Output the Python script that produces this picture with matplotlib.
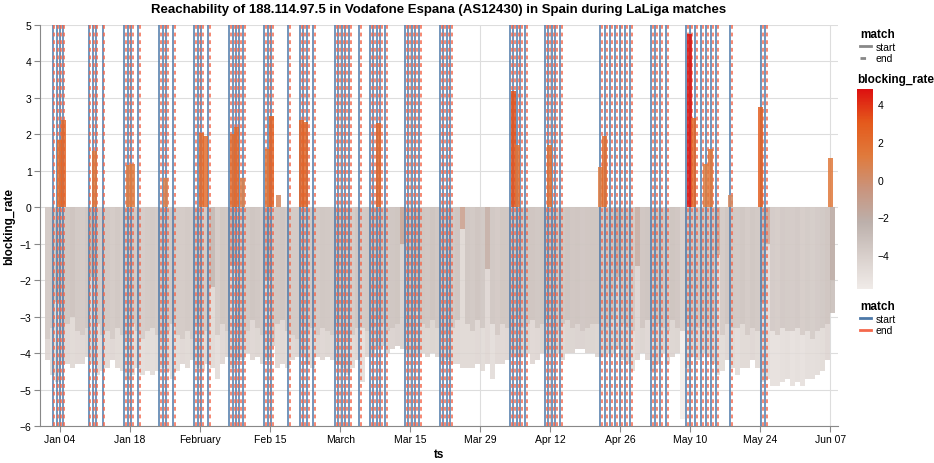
import numpy as np
import pandas as pd
import matplotlib.pyplot as plt
from matplotlib.colors import LinearSegmentedColormap, Normalize
from matplotlib.lines import Line2D

plt.rcParams['font.family'] = ['Liberation Sans', 'DejaVu Sans']

t0 = pd.Timestamp('2015-01-01')

# match kick-offs, in days after Jan 01 2015
match_start_day = [1.6, 2.4, 3.0, 3.6, 8.8, 9.6, 10.2, 11.6, 15.8, 16.6, 17.2, 18.6,
                   22.8, 23.6, 24.2, 25.6, 29.8, 30.6, 31.2, 32.6, 36.8, 37.6, 38.2, 38.8, 39.6,
                   43.8, 44.6, 45.2, 48.6, 51.0, 51.6, 52.4, 53.6, 58.0, 58.6, 59.4, 60.0, 60.8, 62.8,
                   65.0, 65.6, 66.4, 67.0, 68.0, 72.0, 72.6, 73.4, 74.0, 74.8, 79.0, 79.6, 80.4, 81.0,
                   93.0, 93.6, 94.4, 95.0, 96.0, 100.0, 100.6, 101.4, 102.0, 103.0,
                   111.0, 112.0, 113.0, 114.0, 115.0, 116.0, 117.0, 121.2, 122.0, 123.0, 124.2,
                   128.2, 129.0, 130.0, 131.2, 132.2, 133.2, 134.2, 137.0, 143.2, 144.0]
match_duration_h = 2

# positive blocking bars (day, value)
pos_day = [2.4, 3.2, 9.4, 16.2, 17.0, 23.6, 30.8, 31.6, 37.0, 37.8, 39.0, 44.0, 44.8, 46.2,
           50.8, 51.6, 66.2, 93.2, 94.0, 100.4, 110.6, 111.4, 128.4, 129.2, 131.6, 132.6, 136.6, 142.6, 156.6]
pos_val = [1.85, 2.4, 1.55, 1.15, 1.2, 0.8, 2.05, 1.95, 2.0, 2.2, 0.8, 1.6, 2.5, 0.35,
           2.4, 2.35, 2.3, 3.2, 1.7, 1.7, 1.1, 1.95, 4.75, 2.45, 1.2, 1.6, 0.35, 2.75, 1.35]

# daily negative blocking rate, deepest value
neg_deep = [-4.2, -4.6, -4.8, -4.3, -4.3, -4.4, -4.3, -4.3, -4.1, -4.3, -4.6, -4.5, -4.4, -4.2,
            -4.4, -4.5, -4.7, -4.6, -4.4, -4.6, -4.5, -4.6, -4.5, -4.4, -4.5, -4.7, -4.5, -4.3,
            -4.4, -4.2, -4.4, -4.5, -4.3, -4.4, -4.7, -4.3, -4.1, -4.4, -4.2, -4.2, -4.0, -4.2,
            -4.1, -4.3, -4.2, -3.8, -4.4, -4.3, -4.4, -4.2, -4.1, -4.0, -4.3, -4.4, -4.1, -4.2,
            -4.1, -4.2, -4.3, -4.4, -4.6, -4.4, -4.2, -4.8, -4.1, -4.0, -3.8, -3.8, -4.0, -3.9,
            -3.8, -3.9, -4.0, -4.1, -4.0, -4.0, -4.1, -4.0, -4.1, -4.3, -4.2, -4.3, -4.3, -4.4,
            -4.4, -4.4, -4.3, -4.5, -4.3, -4.7, -4.3, -4.3, -4.2, -4.0, -4.1, -4.1, -4.0, -4.3,
            -4.2, -4.0, -4.0, -4.0, -4.0, -4.2, -4.0, -4.0, -3.9, -3.9, -4.0, -4.0, -4.1, -4.1,
            -4.0, -4.0, -3.9, -4.2, -4.3, -4.5, -4.2, -4.0, -4.2, -4.5, -4.3, -4.0, -4.3, -4.1,
            -4.0, -5.8, -4.4, -4.1, -4.2, -4.0, -4.1, -4.3, -4.6, -4.5, -4.2, -4.4, -4.6, -4.4,
            -4.4, -4.2, -4.4, -4.8, -4.7, -4.9, -4.9, -4.8, -4.7, -4.9, -4.8, -4.9, -4.7, -4.7,
            -4.6, -4.5, -4.2, -2.9]

# daily negative blocking rate, shallower (darker) layer
neg_mid = [-3.6, -3.3, -2.6, -3.4, -3.2, -3.0, -3.4, -3.5, -3.3, -1.9, -3.2, -3.5, -3.4, -3.6,
           -3.3, -3.5, -3.6, -3.2, -3.4, -3.6, -3.4, -3.3, -3.5, -3.6, -3.4, -3.2, -3.5, -3.6,
           -3.4, -3.6, -3.2, -3.5, -3.4, -2.2, -3.5, -3.2, -3.4, -1.6, -3.3, -3.6, -3.4, -3.1,
           -3.3, -3.5, -2.0, -3.6, -3.2, -3.1, -3.4, -3.5, -3.6, -3.2, -3.4, -3.3, -3.5, -3.3,
           -3.4, -3.5, -3.2, -3.4, -3.6, -3.5, -3.3, -3.3, -3.4, -3.3, -3.1, -3.2, -3.4, -3.3,
           -3.2, -1.0, -3.3, -3.4, -2.8, -3.2, -3.3, -3.1, -3.3, -3.5, -3.4, -3.3, -3.1, -0.6,
           -3.2, -3.4, -3.1, -3.3, -1.7, -3.2, -3.5, -3.2, -3.3, -3.4, -3.0, -3.3, -3.2, -3.1,
           -3.3, -3.2, -3.1, -3.3, -3.4, -3.2, -3.1, -3.3, -3.2, -3.4, -3.3, -3.2, -3.2, -3.4,
           -3.3, -3.1, -1.9, -3.2, -3.3, -3.4, -1.6, -3.3, -3.1, -3.4, -3.2, -3.3, -3.4, -3.1,
           -3.3, -3.4, -3.2, -3.4, -3.3, -3.2, -3.3, -3.3, -1.3, -3.5, -3.2, -3.3, -3.3, -3.2,
           -3.5, -3.3, -3.4, -2.6, -1.0, -3.4, -3.5, -3.3, -3.4, -3.4, -3.3, -3.5, -3.4, -3.6,
           -3.4, -3.3, -3.2, -2.0]

fig = plt.figure(figsize=(9.34, 4.64), dpi=100)
ax = fig.add_axes([40/934, 1 - 427/464, 798/934, 401/464])

cmap = LinearSegmentedColormap.from_list('br', ['#f0ebe8', '#d8cfcb', '#bcb0ab', '#c9947d',
                                                '#e07a3c', '#e45a1c', '#dd1010'])
norm = Normalize(-5.8, 4.8)

days = np.arange(len(neg_deep))
dates = [t0 + pd.Timedelta(days=float(d)) for d in days]
ax.bar(dates, neg_deep, width=1.0, align='edge', color=cmap(norm(np.array(neg_deep))),
       alpha=0.85, zorder=2)
ax.bar(dates, neg_mid, width=0.9, align='edge', color=cmap(norm(np.array(neg_mid))),
       alpha=0.7, zorder=2)

for d in match_start_day:
    s = t0 + pd.Timedelta(days=d)
    e = s + pd.Timedelta(hours=match_duration_h)
    ax.axvline(s, color='#4c78a8', lw=1.1, zorder=3)
    ax.axvline(e + pd.Timedelta(hours=5), color='#f4684c', lw=1.1, ls=(0, (2.5, 2.5)), zorder=4)

pdates = [t0 + pd.Timedelta(days=float(d)) for d in pos_day]
ax.bar(pdates, pos_val, width=1.0, align='edge', color=cmap(norm(np.array(pos_val))),
       alpha=0.85, zorder=5)

ax.set_ylim(-6, 5)
ax.set_yticks(range(-6, 6))
ax.set_xlim(pd.Timestamp('2014-12-31'), pd.Timestamp('2015-06-08 12:00'))
ticks = pd.to_datetime(['2015-01-04', '2015-01-18', '2015-02-01', '2015-02-15', '2015-03-01',
                        '2015-03-15', '2015-03-29', '2015-04-12', '2015-04-26', '2015-05-10',
                        '2015-05-24', '2015-06-07'])
ax.set_xticks(ticks)
ax.set_xticklabels(['Jan 04', 'Jan 18', 'February', 'Feb 15', 'March', 'Mar 15', 'Mar 29',
                    'Apr 12', 'Apr 26', 'May 10', 'May 24', 'Jun 07'])
ax.grid(color='#dddddd', lw=0.8, zorder=0)
ax.set_axisbelow(True)
for s in ['top', 'right']:
    ax.spines[s].set_visible(False)
ax.spines['left'].set_color('#888888')
ax.spines['bottom'].set_color('#888888')
ax.tick_params(labelsize=7.5, color='#888888', length=4, pad=2)
ax.set_xlabel('ts', fontsize=8.5, fontweight='bold', labelpad=3)
ax.set_ylabel('blocking_rate', fontsize=8.5, fontweight='bold', labelpad=3)
ax.set_title('Reachability of 188.114.97.5 in Vodafone Espana (AS12430) in Spain during LaLiga matches',
             fontsize=9.5, fontweight='bold', pad=9)

tprops = {'weight': 'bold', 'size': 8.5}
h1 = [Line2D([], [], color='#888888', lw=2), Line2D([], [], color='#888888', lw=2, ls=(0, (2, 2)))]
fig.legend(h1, ['start', 'end'], title='match', loc='upper left', bbox_to_anchor=(855/934, 1 - 24/464),
           frameon=False, fontsize=7.5, handlelength=1.0, handletextpad=0.5, title_fontproperties=tprops,
           alignment='left', borderpad=0, labelspacing=0.15)
fig.text(857/934, 1 - 74/464, 'blocking_rate', fontsize=8.5, fontweight='bold', va='top')
cax = fig.add_axes([857/934, 1 - 290/464, 16/934, 200/464])
cb = fig.colorbar(plt.cm.ScalarMappable(norm=norm, cmap=cmap), cax=cax)
cb.set_ticks([-4, -2, 0, 2, 4])
cb.ax.set_yticklabels(['\u22124', '\u22122', '0', '2', '4'])
cb.outline.set_visible(False)
cax.tick_params(labelsize=7.5, length=0)
h2 = [Line2D([], [], color='#4c78a8', lw=2), Line2D([], [], color='#f4684c', lw=2)]
fig.legend(h2, ['start', 'end'], title='match', loc='upper left', bbox_to_anchor=(855/934, 1 - 296/464),
           frameon=False, fontsize=7.5, handlelength=1.0, handletextpad=0.5, title_fontproperties=tprops,
           alignment='left', borderpad=0, labelspacing=0.15)

fig.savefig('out.png', dpi=100)
